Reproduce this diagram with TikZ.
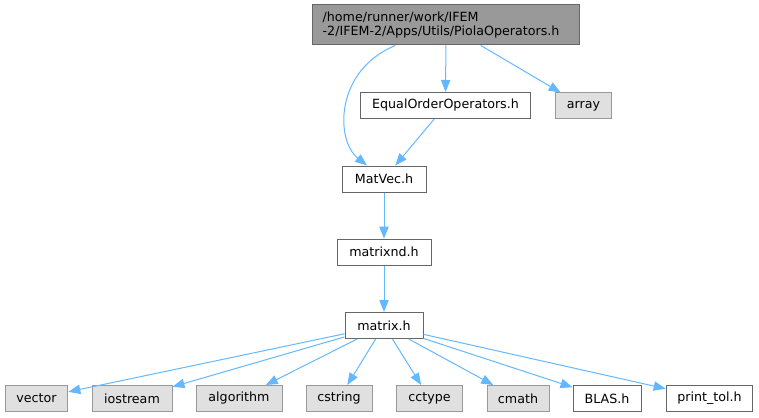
\documentclass[tikz,border=0pt]{standalone}
\usepackage{fontspec}
\setmainfont{DejaVu Sans}
\usetikzlibrary{arrows.meta}
\definecolor{edgeblue}{HTML}{63B8FF}
\definecolor{topfill}{HTML}{999999}
\definecolor{sysfill}{HTML}{E0E0E0}
\definecolor{boxline}{HTML}{666666}
\definecolor{sysline}{HTML}{999999}

\begin{document}
\begin{tikzpicture}[x=0.75pt,y=0.75pt,yscale=-1,
  every node/.style={font=\fontsize{9.5}{11.2}\selectfont, inner sep=0pt, minimum height=19.5pt},
  hdr/.style={draw=boxline, fill=white, line width=0.75pt},
  sys/.style={draw=sysline, fill=sysfill, line width=0.75pt},
  cur/.style={draw=boxline, fill=topfill, line width=0.75pt, align=left},
  edge/.style={draw=edgeblue, line width=0.75pt, -{Triangle[length=9pt,width=7pt]}}]
\useasboundingbox (0,0) rectangle (759,417);
% top file and its direct includes
\node [cur, minimum width=200pt, minimum height=30pt, text width=185pt] (piola) at (446,25) {/home/runner/work/IFEM\\-2/IFEM-2/Apps/Utils/PiolaOperators.h};
\node [hdr, minimum width=128pt] (eqorder) at (445.5,105.5) {EqualOrderOperators.h};
\node [sys, minimum width=42.5pt] (array) at (583.5,106) {array};
% chain down to matrix.h
\node [hdr, minimum width=63pt] (matvec) at (384,179) {MatVec.h};
\node [hdr, minimum width=70.5pt] (matrixnd) at (384,252) {matrixnd.h};
\node [hdr, minimum width=58.5pt] (matrix) at (384,325.5) {matrix.h};
% bottom row
\node [sys, minimum width=47pt] (vector) at (36.5,398.5) {vector};
\node [sys, minimum width=60pt] (iostream) at (132,398.5) {iostream};
\node [sys, minimum width=64.5pt] (algorithm) at (239,398.5) {algorithm};
\node [sys, minimum width=49.5pt] (cstring) at (339,398.5) {cstring};
\node [sys, minimum width=49pt] (cctype) at (429.5,398.5) {cctype};
\node [sys, minimum width=46.5pt] (cmath) at (518,398.5) {cmath};
\node [hdr, minimum width=51pt] (blas) at (607,398.5) {BLAS.h};
\node [hdr, minimum width=65pt] (printtol) at (709.5,398.5) {print\_tol.h};

\draw [edge] (piola) .. controls (335,70) and (335,140) .. (matvec);
\draw [edge] (piola) -- (eqorder);
\draw [edge] (piola) -- (array);
\draw [edge] (eqorder) -- (matvec);
\draw [edge] (matvec) -- (matrixnd);
\draw [edge] (matrixnd) -- (matrix);
\foreach \n in {vector,iostream,algorithm,cstring,cctype,cmath,blas,printtol}
  \draw [edge] (matrix) -- (\n);
\end{tikzpicture}
\end{document}
